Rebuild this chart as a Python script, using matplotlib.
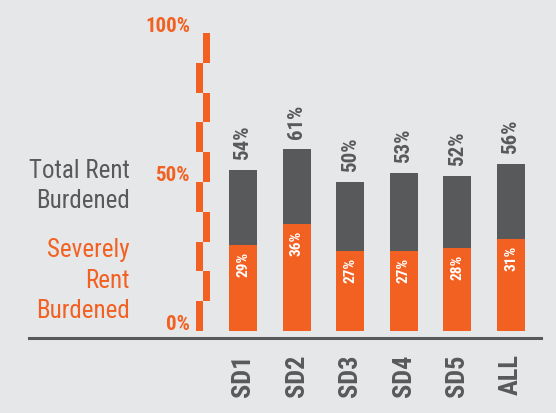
import matplotlib
matplotlib.use("Agg")
import matplotlib.pyplot as plt
from matplotlib import font_manager
import numpy as np

# Data
categories = ["SD1", "SD2", "SD3", "SD4", "SD5", "ALL"]
total_burdened = [54, 61, 50, 53, 52, 56]
severely_burdened = [29, 36, 27, 27, 28, 31]
axis_ticks = [0, 50, 100]

ORANGE = "#F26122"
GRAY = "#58595B"
BG = "#E6E7E9"

# Pick a condensed face when one is available
installed = {f.name for f in font_manager.fontManager.ttflist}
family = "Roboto"
for cand in ["Roboto Condensed", "Liberation Sans Narrow", "DejaVu Sans Condensed"]:
    if cand in installed:
        family = cand
        break
plt.rcParams["font.family"] = [family, "DejaVu Sans"]

W, H = 556, 414
fig = plt.figure(figsize=(W / 100, H / 100), dpi=100, facecolor=BG)
ax = fig.add_axes([29 / W, 82 / H, 512 / W, 298 / H])
ax.set_facecolor(BG)

x = np.arange(len(categories))
step = 53.6  # pixels per category
ax.set_xlim((29 - 243) / step, (541 - 243) / step)
ax.set_ylim(0, 100)

bw = 28 / step
ax.bar(x, total_burdened, width=bw, color=GRAY, zorder=2)
ax.bar(x, severely_burdened, width=bw, color=ORANGE, zorder=3)

px = 100 / 298  # one pixel in value units
for xi, t, s in zip(x, total_burdened, severely_burdened):
    ax.text(xi, t + 11 * px, f"{t}%", ha="center", va="bottom",
            rotation=90, color=GRAY, fontsize=15, fontweight="bold")
    ax.text(xi, s - 6 * px, f"{s}%", ha="center", va="top", rotation=90,
            color="white", fontsize=11, fontweight="bold", zorder=4)

# Staggered value axis
seg_w = 7 / step
left_x = (199.5 - 243) / step
right_x = (206.5 - 243) / step
for i, y0 in enumerate(range(0, 100, 10)):
    sx = left_x if i % 2 == 0 else right_x
    ax.bar(sx, 10, bottom=y0, width=seg_w, color=ORANGE, zorder=2)

label_x = (190 - 243) / step
for v in axis_ticks:
    ax.text(label_x, v + 0.8, f"{v}%", ha="right", va="baseline",
            color=ORANGE, fontsize=15, fontweight="bold")

# Legend-style captions
cap_x = 130 / W
for txt, base, col in [("Total Rent", 178, GRAY), ("Burdened", 208, GRAY),
                       ("Severely", 257, ORANGE), ("Rent", 288, ORANGE),
                       ("Burdened", 318, ORANGE)]:
    fig.text(cap_x, (H - base) / H, txt, ha="right", va="baseline",
             color=col, fontsize=18)

for side in ["left", "top", "right"]:
    ax.spines[side].set_visible(False)
ax.spines["bottom"].set_position(("outward", 5))
ax.spines["bottom"].set_color(GRAY)
ax.spines["bottom"].set_linewidth(2.2)

ax.set_yticks([])
ax.set_xticks(x)
ax.set_xticklabels(categories, rotation=90, fontsize=19, fontweight="bold",
                   color=GRAY)
ax.tick_params(axis="x", length=0, pad=11)

fig.savefig("out.png", dpi=100, facecolor=BG)
